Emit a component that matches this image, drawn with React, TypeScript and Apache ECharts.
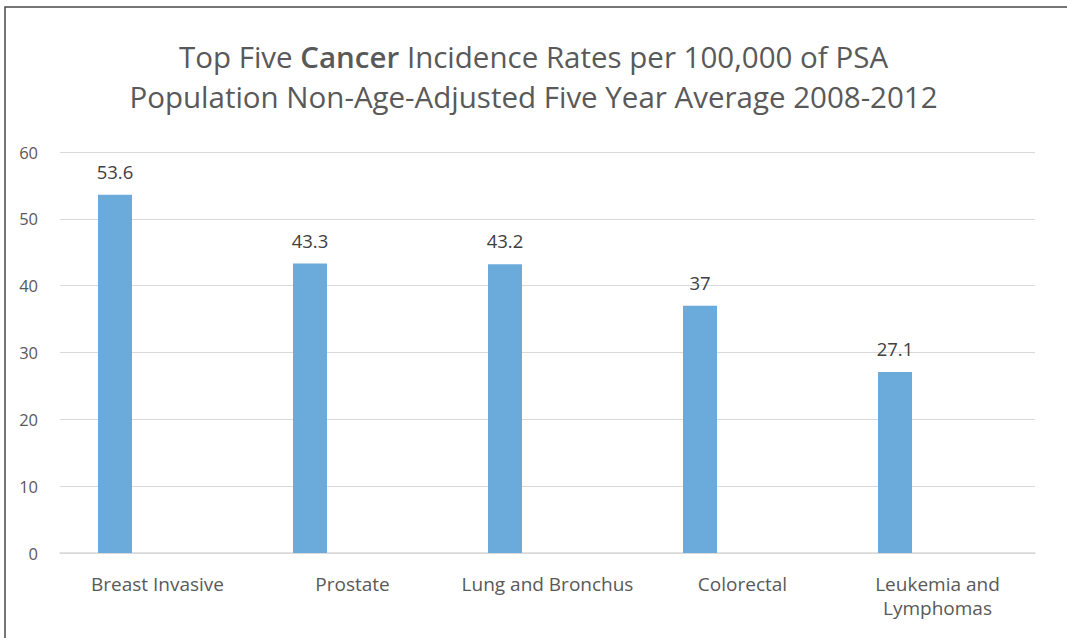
import React, { useEffect, useRef } from "react";
import * as echarts from "echarts";

const categories = ["Breast Invasive", "Prostate", "Lung and Bronchus", "Colorectal", "Leukemia and\nLymphomas"];
const rates = [53.6, 43.3, 43.2, 37, 27.1];
const emptySlot = [null, null, null, null, null];
const yMin = 0;
const yMax = 60;
const yStep = 10;

const FONT = "'Open Sans', 'DejaVu Sans', sans-serif";

export default function App() {
  const ref = useRef<HTMLDivElement>(null);
  useEffect(() => {
    if (!ref.current) return;
    const chart = echarts.init(ref.current, null, { renderer: "svg" });
    chart.setOption({
      animation: false,
      backgroundColor: "#ffffff",
      title: {
        text:
          "{a|Top Five }{b|Cancer}{a| Incidence Rates per 100,000 of PSA}\n{a|Population Non-Age-Adjusted Five Year Average 2008-2012}",
        left: "center",
        top: 31,
        textStyle: {
          fontFamily: FONT,
          rich: {
            a: { fontFamily: FONT, fontSize: 29.5, color: "#595959", lineHeight: 40, fontWeight: "normal" },
            b: { fontFamily: FONT, fontSize: 29.5, color: "#595959", lineHeight: 40, fontWeight: 600 },
          },
        },
      },
      graphic: [
        {
          type: "rect",
          shape: { x: 5, y: 7, width: 1075, height: 650 },
          style: { fill: "none", stroke: "#4a4a4a", lineWidth: 1.5 },
          silent: true,
        },
      ],
      grid: { left: 60, right: 32, top: 152, bottom: 85 },
      xAxis: {
        type: "category",
        data: categories,
        axisLine: { show: true, lineStyle: { color: "#d9d9d9", width: 1.5 } },
        axisTick: { show: false },
        axisLabel: {
          fontFamily: FONT,
          fontSize: 19,
          color: "#595959",
          margin: 19,
          lineHeight: 24,
          interval: 0,
        },
      },
      yAxis: {
        type: "value",
        min: yMin,
        max: yMax,
        interval: yStep,
        axisLine: { show: false },
        axisTick: { show: false },
        splitLine: { lineStyle: { color: "#d9d9d9", width: 1 } },
        axisLabel: { fontFamily: FONT, fontSize: 16.5, color: "#595959", margin: 22 },
      },
      series: [
        {
          type: "bar",
          data: rates,
          barWidth: 34,
          barGap: "150%",
          itemStyle: { color: "#6aabdc" },
          label: {
            show: true,
            position: "top",
            distance: 14,
            fontFamily: FONT,
            fontSize: 18.5,
            color: "#404040",
          },
        },
        {
          type: "bar",
          data: emptySlot,
          barWidth: 34,
          itemStyle: { color: "#6aabdc" },
        },
      ],
    });
    return () => chart.dispose();
  }, []);
  return (
    <div
      ref={ref}
      style={{ position: "fixed", left: 0, top: 0, width: 1067, height: 638 }}
    />
  );
}
